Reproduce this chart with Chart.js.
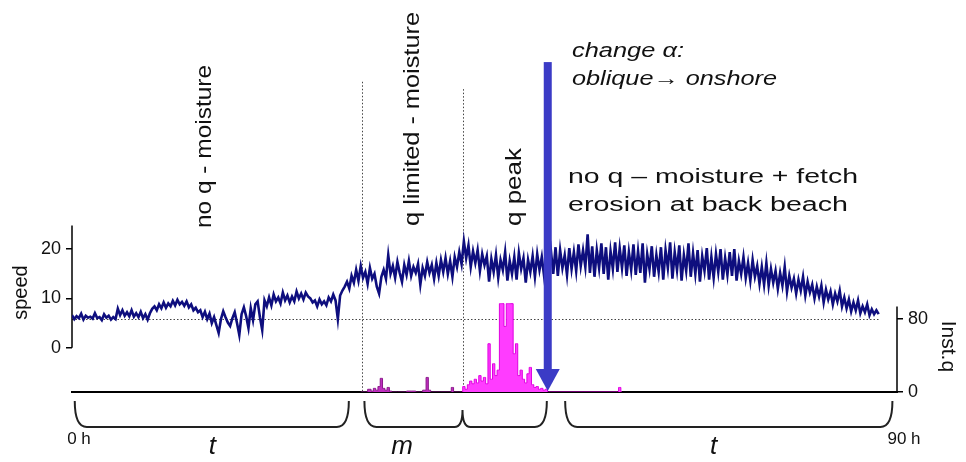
<!DOCTYPE html>
<html lang="en">
<head>
<meta charset="UTF-8">
<title>Wind speed and instantaneous transport</title>
<script src="https://cdn.jsdelivr.net/npm/chart.js"></script>
<style>
  html, body { margin: 0; padding: 0; background: #fff; }
  canvas { display: block; }
</style>
</head>
<body>
<canvas id="grafico" width="966" height="462"></canvas>
<script>
const FONT = '"Liberation Sans", Arial, sans-serif';

// wind speed, one reading every quarter hour from 0 h to 88 h (two hours per row)
const speedStep = 0.25;
const speedValues = [
  6.6, 5.8, 6.4, 6.0, 6.9, 5.7, 6.5, 6.1,
  6.3, 5.9, 7.0, 6.0, 6.2, 5.6, 6.8, 6.1,
  6.5, 5.7, 6.2, 5.8, 7.9, 6.6, 7.6, 6.5,
  7.2, 6.4, 7.6, 6.3, 7.0, 6.2, 7.3, 6.0,
  6.8, 5.7, 7.0, 7.9, 8.4, 7.6, 8.8, 8.0,
  9.2, 8.1, 9.0, 8.4, 9.5, 8.6, 9.7, 8.8,
  9.3, 8.5, 9.4, 8.2, 8.8, 7.6, 8.1, 7.2,
  7.6, 6.2, 7.3, 5.8, 6.9, 5.0, 6.2, 4.6,
  3.0, 5.8, 7.4, 6.2, 5.1, 4.4, 6.0, 7.2,
  5.0, 2.6, 6.8, 8.2, 6.4, 4.0, 8.0, 5.6,
  8.8, 9.4, 6.2, 3.6, 9.6, 8.4, 10.2, 8.6,
  10.8, 9.4, 10.2, 9.0, 11.2, 9.6, 10.6, 9.2,
  10.4, 9.4, 11.4, 10.0, 11.0, 9.8, 11.2, 10.4,
  10.0, 9.2, 9.6, 8.4, 9.8, 8.8, 9.4, 8.6,
  10.2, 9.4, 10.8, 9.6, 5.8, 10.6, 11.6, 12.4,
  13.4, 12.0, 14.6, 13.2, 15.8, 13.6, 16.6, 14.2,
  15.4, 13.0, 16.2, 14.0, 15.0, 12.4, 11.0, 14.4,
  15.8, 14.0, 18.8, 15.0, 16.6, 14.2, 17.4, 15.2,
  13.4, 16.8, 14.8, 17.6, 14.6, 16.4, 15.2, 17.0,
  12.8, 16.2, 14.6, 17.4, 15.2, 16.8, 14.0, 17.2,
  14.6, 17.8, 15.4, 18.2, 15.0, 17.6, 14.4, 18.4,
  16.4, 19.4, 17.0, 21.6, 18.2, 20.8, 16.4, 19.6,
  17.2, 19.8, 15.6, 19.0, 16.8, 18.6, 13.4, 18.0,
  15.4, 18.8, 14.2, 17.8, 15.8, 19.4, 13.6, 17.6,
  15.0, 18.4, 13.8, 19.2, 16.0, 18.2, 13.2, 17.8,
  15.4, 18.6, 14.4, 19.0, 15.8, 18.4, 14.6, 18.0,
  16.2, 19.6, 15.0, 20.4, 14.6, 19.8, 16.2, 18.8,
  14.8, 20.2, 16.0, 19.4, 15.6, 21.0, 16.6, 19.8,
  16.4, 23.0, 15.2, 20.6, 14.4, 19.8, 16.2, 21.2,
  15.0, 20.4, 13.8, 19.6, 16.0, 21.4, 15.4, 20.2,
  16.2, 20.8, 14.6, 19.4, 15.8, 21.0, 14.8, 19.6,
  15.2, 21.2, 13.2, 19.0, 16.0, 20.6, 14.4, 18.8,
  15.4, 20.4, 13.8, 19.8, 16.2, 21.4, 14.0, 19.4,
  15.8, 20.8, 13.6, 18.8, 15.6, 21.2, 14.4, 19.2,
  15.0, 19.8, 13.4, 18.6, 15.6, 20.2, 13.8, 18.4,
  14.2, 19.0, 15.4, 20.0, 13.8, 18.2, 14.8, 19.4,
  14.6, 20.0, 13.6, 17.6, 15.0, 18.4, 14.2, 17.2,
  13.6, 17.8, 14.4, 16.6, 13.0, 16.4, 12.8, 17.2,
  12.6, 16.0, 13.2, 15.6, 12.0, 15.2, 12.6, 16.4,
  11.4, 14.6, 12.2, 14.0, 11.0, 13.8, 11.6, 14.4,
  10.6, 13.4, 11.2, 12.8, 10.0, 12.4, 10.4, 12.6,
  9.2, 11.8, 9.8, 11.4, 8.8, 11.0, 9.4, 11.6,
  8.4, 10.2, 8.0, 9.8, 7.4, 9.2, 7.6, 9.6,
  7.0, 8.4, 7.2, 8.8, 6.6, 7.8, 6.8, 7.6,
  6.8
];

// instantaneous transport Inst.q
const qHours = [
  31.5, 32, 32.5, 32.75, 33, 33.25, 33.5, 33.75, 34, 34.25, 34.5, 34.75, 35, 36, 37, 38,
  38.5, 38.75, 39, 39.25, 41.25, 41.5, 41.75, 42.5,
  42.75, 43, 43.25, 43.5, 43.75, 44, 44.25, 44.5, 44.75, 45, 45.25, 45.5, 45.75, 46,
  46.25, 46.5, 46.75, 47, 47.25, 47.5, 47.75, 48, 48.25, 48.5, 48.75, 49, 49.25, 49.5,
  49.75, 50, 50.25, 50.5, 50.75, 51, 51.25, 51.5, 51.75, 52, 59.5, 59.75, 60
];
const qValues = [
  0, 0, 3, 1, 4, 2, 6, 15, 4, 2, 5, 1, 0, 0, 1, 0,
  2, 16, 2, 0, 0, 5, 0, 0,
  6, 3, 8, 12, 9, 14, 10, 18, 12, 16, 9, 53, 14, 31,
  18, 24, 97, 97, 72, 97, 97, 97, 42, 53, 18, 24, 14, 10,
  20, 27, 8, 5, 6, 3, 4, 2, 3, 0, 0, 5, 0
];

const speedTicks = [0, 10, 20];
const qTicks = [0, 80];
const xTicks = [0, 90];

// phase limits, wind direction change, reference transport level
const phaseBounds = [31.6, 42.6];
const changeHour = 51.9;
const qReference = 80;

// phase braces under the time axis
const braceFrom = [0.3, 31.9, 53.8];
const braceTo = [30.2, 51.8, 89.5];
const braceMid = [null, 42.6, null];
const braceLabels = ['t', 'm', 't'];
const braceLabelHours = [15.3, 36, 70];

const speedData = speedValues.map((v, i) => ({ x: i * speedStep, y: v }));
const qPoints = qHours.map((h, i) => ({ x: h, y: qValues[i] }));
const qLimitedData = qPoints.filter(p => p.x <= phaseBounds[1]);
const qPeakData = qPoints.filter(p => p.x >= phaseBounds[1] - 0.1);
const lastHour = (speedValues.length - 1) * speedStep;

function drawText(ctx, str, x, y, size, width, italic, rotated) {
  ctx.save();
  ctx.font = (italic ? 'italic ' : '') + size + 'px ' + FONT;
  ctx.fillStyle = '#111';
  ctx.textAlign = 'left';
  ctx.textBaseline = 'alphabetic';
  const sx = width / ctx.measureText(str).width;
  ctx.translate(x, y);
  if (rotated) ctx.rotate(-Math.PI / 2);
  ctx.scale(sx, 1);
  ctx.fillText(str, 0, 0);
  ctx.restore();
}

function drawBrace(ctx, x1, x2, xm, top, bottom) {
  const r = 12;
  ctx.beginPath();
  ctx.moveTo(x1, top);
  ctx.quadraticCurveTo(x1, bottom, x1 + r, bottom);
  if (xm !== null) {
    ctx.lineTo(xm - 8, bottom);
    ctx.quadraticCurveTo(xm, bottom, xm, top + 9);
    ctx.quadraticCurveTo(xm, bottom, xm + 8, bottom);
  }
  ctx.lineTo(x2 - r, bottom);
  ctx.quadraticCurveTo(x2, bottom, x2, top);
  ctx.stroke();
}

const overlay = {
  id: 'overlay',
  beforeDraw(chart) {
    const ctx = chart.ctx;
    ctx.save();
    ctx.fillStyle = '#fff';
    ctx.fillRect(0, 0, chart.width, chart.height);
    ctx.restore();
  },
  beforeDatasetsDraw(chart) {
    const ctx = chart.ctx;
    const x = chart.scales.x, ys = chart.scales.speed, yq = chart.scales.q;
    const area = chart.chartArea;
    ctx.save();
    // dotted guide lines
    ctx.strokeStyle = '#444';
    ctx.lineWidth = 1;
    ctx.setLineDash([1.5, 2]);
    ctx.beginPath();
    const yRef = Math.round(yq.getPixelForValue(qReference)) + 0.5;
    ctx.moveTo(area.left, yRef);
    ctx.lineTo(x.getPixelForValue(lastHour), yRef);
    const tops = [54, 52.5];
    phaseBounds.forEach((h, i) => {
      const px = Math.round(x.getPixelForValue(h)) + 0.5;
      ctx.moveTo(px, ys.getPixelForValue(tops[i]));
      ctx.lineTo(px, area.bottom);
    });
    ctx.stroke();
    ctx.setLineDash([]);
    // axis lines covering only the used ranges
    ctx.strokeStyle = '#000';
    ctx.lineWidth = 1.5;
    ctx.beginPath();
    ctx.moveTo(area.left, ys.getPixelForValue(0));
    ctx.lineTo(area.left, ys.getPixelForValue(24.8));
    ctx.moveTo(area.right, yq.getPixelForValue(0));
    ctx.lineTo(area.right, yq.getPixelForValue(94));
    ctx.stroke();
    // axis titles
    ctx.fillStyle = '#111';
    ctx.textAlign = 'center';
    ctx.textBaseline = 'middle';
    ctx.font = '20px ' + FONT;
    ctx.save();
    ctx.translate(21, ys.getPixelForValue(11.2));
    ctx.rotate(-Math.PI / 2);
    ctx.fillText('speed', 0, 0);
    ctx.restore();
    ctx.font = '21px ' + FONT;
    ctx.save();
    ctx.translate(948, yq.getPixelForValue(50));
    ctx.rotate(Math.PI / 2);
    ctx.fillText('Inst.q', 0, 0);
    ctx.restore();
    ctx.restore();
  },
  afterDatasetsDraw(chart) {
    const ctx = chart.ctx;
    const x = chart.scales.x, ys = chart.scales.speed;
    const area = chart.chartArea;
    ctx.save();
    // arrow marking the change of wind direction
    const ax = x.getPixelForValue(changeHour);
    const aTop = ys.getPixelForValue(58);
    const tip = area.bottom - 1;
    ctx.fillStyle = '#3b3bc6';
    ctx.fillRect(ax - 4, aTop, 8, tip - 22 - aTop);
    ctx.beginPath();
    ctx.moveTo(ax - 12, tip - 22);
    ctx.lineTo(ax + 12, tip - 22);
    ctx.lineTo(ax, tip);
    ctx.closePath();
    ctx.fill();

    // braces and phase letters
    ctx.strokeStyle = '#222';
    ctx.lineWidth = 2;
    braceFrom.forEach((h, i) => {
      const xm = braceMid[i] === null ? null : x.getPixelForValue(braceMid[i]);
      drawBrace(ctx, x.getPixelForValue(h), x.getPixelForValue(braceTo[i]), xm, area.bottom + 9, area.bottom + 35);
    });
    ctx.fillStyle = '#111';
    ctx.font = 'italic 26px ' + FONT;
    ctx.textAlign = 'center';
    ctx.textBaseline = 'alphabetic';
    braceLabels.forEach((t, i) => {
      ctx.fillText(t, x.getPixelForValue(braceLabelHours[i]), area.bottom + 62);
    });
    ctx.restore();

    // annotations
    drawText(ctx, 'change \u03b1:', 572, 57, 20, 112, true, false);
    drawText(ctx, 'oblique\u2192 onshore', 572, 85, 20, 205, true, false);
    drawText(ctx, 'no q \u2013 moisture + fetch', 568, 183, 20, 290, false, false);
    drawText(ctx, 'erosion at back beach', 568, 211, 20, 280, false, false);
    drawText(ctx, 'no q - moisture', 211, 228, 22, 163, false, true);
    drawText(ctx, 'q limited - moisture', 419, 226, 22, 214, false, true);
    drawText(ctx, 'q peak', 521, 226, 22, 78, false, true);
  }
};

const tickGrid = { drawOnChartArea: false, drawTicks: true, tickLength: 6, color: '#000', lineWidth: 1.5 };

new Chart(document.getElementById('grafico').getContext('2d'), {
  type: 'line',
  data: {
    datasets: [
      {
        label: 'Inst.q (limited)',
        data: qLimitedData,
        yAxisID: 'q',
        borderColor: '#8a1a8a',
        backgroundColor: '#c02cc0',
        borderWidth: 1,
        fill: 'origin',
        stepped: 'middle',
        pointRadius: 0
      },
      {
        label: 'Inst.q (peak)',
        data: qPeakData,
        yAxisID: 'q',
        borderColor: '#e000e0',
        backgroundColor: '#ff3cff',
        borderWidth: 1,
        fill: 'origin',
        stepped: 'middle',
        pointRadius: 0
      },
      {
        label: 'speed',
        data: speedData,
        yAxisID: 'speed',
        borderColor: '#0e0e7e',
        borderWidth: 2.6,
        pointRadius: 0,
        tension: 0,
        fill: false
      }
    ]
  },
  options: {
    responsive: false,
    animation: false,
    layout: { padding: { top: 10 } },
    plugins: { legend: { display: false }, tooltip: { enabled: false } },
    scales: {
      x: {
        type: 'linear',
        min: 0,
        max: 90,
        afterBuildTicks: s => { s.ticks = xTicks.map(v => ({ value: v })); },
        grid: { display: false, drawTicks: false },
        border: { display: true, color: '#000', width: 2 },
        ticks: {
          callback: v => v + ' h',
          padding: 37,
          labelOffset: 7,
          maxRotation: 0,
          autoSkip: false,
          color: '#111',
          font: { size: 17, family: FONT }
        },
        afterFit: s => { s.height = 70; }
      },
      speed: {
        type: 'linear',
        position: 'left',
        min: -9,
        max: 67.4,
        afterBuildTicks: s => { s.ticks = speedTicks.map(v => ({ value: v })); },
        grid: tickGrid,
        border: { display: false },
        ticks: { padding: 5, color: '#111', font: { size: 18, family: FONT } },
        afterFit: s => { s.width = 72; }
      },
      q: {
        type: 'linear',
        position: 'right',
        min: 0,
        max: 413,
        afterBuildTicks: s => { s.ticks = qTicks.map(v => ({ value: v })); },
        grid: tickGrid,
        border: { display: false },
        ticks: { padding: 5, color: '#111', font: { size: 18, family: FONT } },
        afterFit: s => { s.width = 69; }
      }
    }
  },
  plugins: [overlay]
});
</script>
</body>
</html>
